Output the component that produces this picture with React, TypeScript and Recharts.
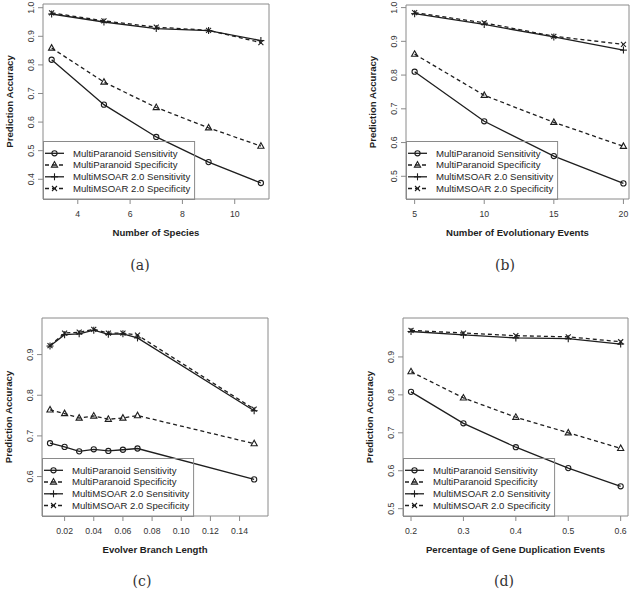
import React from 'react';
import { LineChart, Line, XAxis, YAxis, ReferenceArea, Legend } from 'recharts';

// ---------- data ----------
const seriesNames = [
  'MultiParanoid Sensitivity',
  'MultiParanoid Specificity',
  'MultiMSOAR 2.0 Sensitivity',
  'MultiMSOAR 2.0 Specificity',
];

// (a) Number of Species
const speciesX = [3, 5, 7, 9, 11];
const speciesMPSens = [0.818, 0.661, 0.548, 0.46, 0.387];
const speciesMPSpec = [0.859, 0.74, 0.651, 0.58, 0.516];
const speciesMMSens = [0.978, 0.95, 0.927, 0.92, 0.885];
const speciesMMSpec = [0.982, 0.954, 0.932, 0.921, 0.878];
const speciesXTicks = [4, 6, 8, 10];
const speciesYTicks = [0.4, 0.5, 0.6, 0.7, 0.8, 0.9, 1.0];

// (b) Number of Evolutionary Events
const eventsX = [5, 10, 15, 20];
const eventsMPSens = [0.81, 0.663, 0.56, 0.479];
const eventsMPSpec = [0.862, 0.74, 0.66, 0.589];
const eventsMMSens = [0.982, 0.95, 0.913, 0.874];
const eventsMMSpec = [0.985, 0.955, 0.915, 0.891];
const eventsXTicks = [5, 10, 15, 20];
const eventsYTicks = [0.5, 0.6, 0.7, 0.8, 0.9, 1.0];

// (c) Evolver Branch Length
const branchX = [0.01, 0.02, 0.03, 0.04, 0.05, 0.06, 0.07, 0.15];
const branchMPSens = [0.682, 0.673, 0.662, 0.667, 0.663, 0.666, 0.669, 0.593];
const branchMPSpec = [0.764, 0.755, 0.744, 0.749, 0.741, 0.744, 0.75, 0.681];
const branchMMSens = [0.921, 0.949, 0.951, 0.96, 0.95, 0.951, 0.941, 0.762];
const branchMMSpec = [0.922, 0.953, 0.955, 0.962, 0.953, 0.953, 0.948, 0.766];
const branchXTicks = [0.02, 0.04, 0.06, 0.08, 0.1, 0.12, 0.14];
const branchYTicks = [0.6, 0.7, 0.8, 0.9];

// (d) Percentage of Gene Duplication Events
const dupX = [0.2, 0.3, 0.4, 0.5, 0.6];
const dupMPSens = [0.808, 0.725, 0.662, 0.607, 0.559];
const dupMPSpec = [0.861, 0.792, 0.741, 0.7, 0.659];
const dupMMSens = [0.967, 0.958, 0.95, 0.948, 0.934];
const dupMMSpec = [0.97, 0.963, 0.956, 0.953, 0.94];
const dupXTicks = [0.2, 0.3, 0.4, 0.5, 0.6];
const dupYTicks = [0.5, 0.6, 0.7, 0.8, 0.9];

// ---------- helpers ----------
const INK = '#1e1e1e';
const BOX = '#8a8a8a';
const FONT = '"Liberation Sans", Arial, Helvetica, sans-serif';

type Kind = 'circle' | 'triangle' | 'plus' | 'cross';
const kinds: Kind[] = ['circle', 'triangle', 'plus', 'cross'];
const keys = ['mpSens', 'mpSpec', 'mmSens', 'mmSpec'];
const dashes = [undefined, '4 3', undefined, '4 3'];

function Marker({ kind, cx, cy }: { kind: Kind; cx: number; cy: number }) {
  const s = { stroke: INK, strokeWidth: 1.1, fill: 'none' } as any;
  if (kind === 'circle') return <circle cx={cx} cy={cy} r={2.6} {...s} />;
  if (kind === 'triangle')
    return (
      <polygon
        points={`${cx},${cy - 3.4} ${cx - 3.1},${cy + 2.1} ${cx + 3.1},${cy + 2.1}`}
        {...s}
      />
    );
  if (kind === 'plus')
    return (
      <g {...s}>
        <line x1={cx - 3.5} y1={cy} x2={cx + 3.5} y2={cy} />
        <line x1={cx} y1={cy - 3.5} x2={cx} y2={cy + 3.5} />
      </g>
    );
  return (
    <g {...s}>
      <line x1={cx - 2.5} y1={cy - 2.5} x2={cx + 2.5} y2={cy + 2.5} />
      <line x1={cx - 2.5} y1={cy + 2.5} x2={cx + 2.5} y2={cy - 2.5} />
    </g>
  );
}

function buildRows(xs: number[], a: number[], b: number[], c: number[], d: number[]) {
  return xs.map((x, i) => ({ x, mpSens: a[i], mpSpec: b[i], mmSens: c[i], mmSpec: d[i] }));
}

const LEG_W = 151.6;
const LEG_H = 58.5;

function LegendBox() {
  const rows = [12.3, 24, 35.8, 47.5];
  return (
    <svg width={LEG_W + 1} height={LEG_H + 1} style={{ display: 'block', overflow: 'visible' }}>
      <rect x={0.5} y={0.5} width={LEG_W - 0.5} height={LEG_H - 0.5} fill="none" stroke={BOX} strokeWidth={1} />
      {seriesNames.map((name, i) => (
        <g key={name}>
          <line
            x1={2}
            y1={rows[i]}
            x2={21}
            y2={rows[i]}
            stroke={INK}
            strokeWidth={1.3}
            strokeDasharray={dashes[i]}
          />
          <Marker kind={kinds[i]} cx={11.5} cy={rows[i]} />
          <text x={30} y={rows[i]} dy="0.35em" fontSize={9.6} fill={INK} fontFamily={FONT}>
            {name}
          </text>
        </g>
      ))}
    </svg>
  );
}

type PanelProps = {
  rows: any[];
  width: number;
  height: number;
  margin: { top: number; right: number; bottom: number; left: number };
  yW: number;
  xDomain: [number, number];
  yDomain: [number, number];
  xTicks: number[];
  yTicks: number[];
  xFmt: (v: number) => string;
  yFmt: (v: number) => string;
  xTitle: string;
};

const X_H = 40;

function Panel(p: PanelProps) {
  const plotLeft = p.margin.left + p.yW;
  const plotBottom = p.height - p.margin.bottom - X_H;
  const YTick = (props: any) => {
    const cx = props.x - 7;
    const cy = props.y;
    return (
      <text
        x={cx}
        y={cy}
        transform={`rotate(-90 ${cx} ${cy})`}
        textAnchor="middle"
        dy="0.35em"
        fontSize={8.7}
        fill="#333"
        fontFamily={FONT}
      >
        {p.yFmt(props.payload.value)}
      </text>
    );
  };
  const YTitle = (props: any) => {
    const vb = props.viewBox || { x: p.margin.left, y: p.margin.top, width: p.yW, height: plotBottom - p.margin.top };
    const cx = vb.x + vb.width - 33.5;
    const cy = vb.y + vb.height / 2;
    return (
      <text
        x={cx}
        y={cy}
        transform={`rotate(-90 ${cx} ${cy})`}
        textAnchor="middle"
        dy="0.35em"
        fontSize={9.6}
        fontWeight="bold"
        fill={INK}
        fontFamily={FONT}
      >
        Prediction Accuracy
      </text>
    );
  };
  const XTitle = (props: any) => {
    const vb = props.viewBox || { x: plotLeft, y: plotBottom, width: p.width - plotLeft - p.margin.right };
    return (
      <text
        x={vb.x + vb.width / 2}
        y={vb.y + 34}
        dy="0.35em"
        textAnchor="middle"
        fontSize={9.6}
        fontWeight="bold"
        fill={INK}
        fontFamily={FONT}
      >
        {p.xTitle}
      </text>
    );
  };
  return (
    <LineChart width={p.width} height={p.height} data={p.rows} margin={p.margin} style={{ fontFamily: FONT }}>
      <XAxis
        dataKey="x"
        type="number"
        domain={p.xDomain}
        allowDataOverflow
        ticks={p.xTicks}
        interval={0}
        tickFormatter={p.xFmt}
        height={X_H}
        axisLine={false}
        tickLine={{ stroke: BOX }}
        tickSize={5}
        tickMargin={7}
        tick={{ fontSize: 8.7, fill: '#333', fontFamily: FONT }}
        label={<XTitle />}
      />
      <YAxis
        type="number"
        domain={p.yDomain}
        allowDataOverflow
        ticks={p.yTicks}
        interval={0}
        width={p.yW}
        axisLine={false}
        tickLine={{ stroke: BOX }}
        tickSize={5}
        tickMargin={0}
        tick={<YTick />}
        label={<YTitle />}
      />
      <ReferenceArea
        x1={p.xDomain[0]}
        x2={p.xDomain[1]}
        y1={p.yDomain[0]}
        y2={p.yDomain[1]}
        fill="none"
        fillOpacity={0}
        stroke={BOX}
        strokeWidth={1}
        ifOverflow="visible"
      />
      {keys.map((k, i) => (
        <Line
          key={k}
          dataKey={k}
          name={seriesNames[i]}
          type="linear"
          stroke={INK}
          strokeWidth={1.3}
          strokeDasharray={dashes[i]}
          isAnimationActive={false}
          activeDot={false}
          dot={(d: any) => <Marker key={`${k}-${d.index}`} kind={kinds[i]} cx={d.cx} cy={d.cy} />}
        />
      ))}
      <Legend
        layout="vertical"
        align="center"
        verticalAlign="middle"
        content={() => <LegendBox />}
        wrapperStyle={{
          position: 'absolute',
          left: plotLeft,
          top: plotBottom - LEG_H,
          width: LEG_W + 1,
          height: LEG_H + 1,
          margin: 0,
          padding: 0,
        }}
      />
    </LineChart>
  );
}

const f1 = (v: number) => v.toFixed(1);
const f2 = (v: number) => v.toFixed(2);
const f0 = (v: number) => String(v);

const captionStyle: React.CSSProperties = {
  position: 'absolute',
  fontFamily: '"DejaVu Serif", "Liberation Serif", serif',
  fontSize: 14,
  color: '#333',
  transform: 'translate(-50%, -50%)',
  whiteSpace: 'nowrap',
};

export default function App() {
  return (
    <div style={{ position: 'absolute', left: 0, top: 0, width: 635, height: 590, background: '#fff', overflow: 'hidden' }}>
      <div style={{ position: 'absolute', left: 0, top: 0 }}>
        <Panel
          rows={buildRows(speciesX, speciesMPSens, speciesMPSpec, speciesMMSens, speciesMMSpec)}
          width={317}
          height={295}
          margin={{ top: 4, right: 48, bottom: 56, left: 0 }}
          yW={43}
          xDomain={[2.67, 11.31]}
          yDomain={[0.331, 1.013]}
          xTicks={speciesXTicks}
          yTicks={speciesYTicks}
          xFmt={f0}
          yFmt={f1}
          xTitle="Number of Species"
        />
      </div>
      <div style={{ position: 'absolute', left: 317, top: 0 }}>
        <Panel
          rows={buildRows(eventsX, eventsMPSens, eventsMPSpec, eventsMMSens, eventsMMSpec)}
          width={318}
          height={295}
          margin={{ top: 5, right: 6, bottom: 56, left: 46 }}
          yW={43}
          xDomain={[4.38, 20.4]}
          yDomain={[0.4327, 1.0077]}
          xTicks={eventsXTicks}
          yTicks={eventsYTicks}
          xFmt={f0}
          yFmt={f1}
          xTitle="Number of Evolutionary Events"
        />
      </div>
      <div style={{ position: 'absolute', left: 0, top: 295 }}>
        <Panel
          rows={buildRows(branchX, branchMPSens, branchMPSpec, branchMMSens, branchMMSpec)}
          width={317}
          height={295}
          margin={{ top: 23, right: 49, bottom: 34, left: 0 }}
          yW={42}
          xDomain={[0.0045, 0.1595]}
          yDomain={[0.503, 0.99]}
          xTicks={branchXTicks}
          yTicks={branchYTicks}
          xFmt={f2}
          yFmt={f1}
          xTitle="Evolver Branch Length"
        />
      </div>
      <div style={{ position: 'absolute', left: 317, top: 295 }}>
        <Panel
          rows={buildRows(dupX, dupMPSens, dupMPSpec, dupMMSens, dupMMSpec)}
          width={318}
          height={295}
          margin={{ top: 23, right: 7, bottom: 34, left: 43 }}
          yW={43}
          xDomain={[0.1847, 0.614]}
          yDomain={[0.4807, 1.0026]}
          xTicks={dupXTicks}
          yTicks={dupYTicks}
          xFmt={f1}
          yFmt={f1}
          xTitle="Percentage of Gene Duplication Events"
        />
      </div>
      <div style={{ ...captionStyle, left: 140, top: 265 }}>(a)</div>
      <div style={{ ...captionStyle, left: 505, top: 265 }}>(b)</div>
      <div style={{ ...captionStyle, left: 142, top: 581 }}>(c)</div>
      <div style={{ ...captionStyle, left: 504, top: 581 }}>(d)</div>
    </div>
  );
}
